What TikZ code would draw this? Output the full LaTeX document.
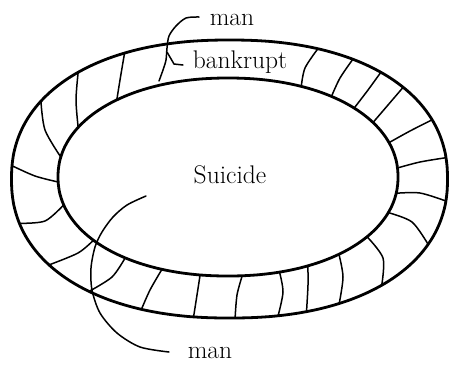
\documentclass[tikz,border=0pt]{standalone}
\begin{document}
\begin{tikzpicture}[x=1pt,y=-1pt,
  declare function={
    spow(\v,\p)=sign(\v)*abs(\v)^(\p);
    ot(\x,\y)=atan2(spow((\y-179)/139,1/0.9),spow((\x-229.5)/218,1/0.9));
    ox(\x,\y)=229.5+218*spow(cos(ot(\x,\y)),0.9);
    oy(\x,\y)=179+139*spow(sin(ot(\x,\y)),0.9);
    it(\x,\y)=atan2(spow((\y-177)/99,1/0.95),spow((\x-228)/170,1/0.95));
    ix(\x,\y)=228+170*spow(cos(it(\x,\y)),0.95);
    iy(\x,\y)=177+99*spow(sin(it(\x,\y)),0.95);
  },
  ring/.style={line width=2.8pt, line join=round},
  divider/.style={line width=1.5pt, line cap=round},
  pointer/.style={line width=1.5pt, line cap=round},
  lbl/.style={font=\fontsize{25.5}{30}\selectfont, inner sep=0pt}]
\useasboundingbox (0,0) rectangle (449,365);
% outer ring
\draw[ring] plot[domain=1.25:358.75, samples=144, smooth cycle, variable=\t]
 ({229.5 + 218*spow(cos(\t),0.9)}, {179 + 139*spow(sin(\t),0.9)});
% inner ring
\draw[ring] plot[domain=1.25:358.75, samples=144, smooth cycle, variable=\t]
 ({228 + 170*spow(cos(\t),0.95)}, {177 + 99*spow(sin(\t),0.95)});
% dividers: outer point, middle point, inner point
\foreach \ua/\ub/\va/\vb/\wa/\wb in {
 127/56/120/80/117/100,
 82/75/76/100/77/127,
 43/102/45/130/60/157,
 14/166/35/176/58/182,
 21/223/45/221/63/205,
 53/263/78/253/94/240,
 92/289/112/277/125/258,
 143/307/150/290/160/272,
 195/315/197/295/200/277,
 235/317/237/295/242/276,
 277/313/283/292/280/273,
 305/309/308/285/308/266,
 337/301/343/277/340/255,
 380/284/383/258/370/238,
 424/243/412/222/390/213,
 443/200/420/193/397/193,
 445/158/420/162/398/168,
 428/121/410/131/392/142,
 398/90/388/105/377/121,
 377/75/368/90/358/106,
 350/62/340/78/332/96,
 315/53/305/68/300/88}
 \draw[divider] plot[smooth] coordinates
   {({ox(\ua,\ub)},{oy(\ua,\ub)}) (\va,\vb) ({ix(\wa,\wb)},{iy(\wa,\wb)})};
% labels
\node[lbl, anchor=base] (mantop) at (232,25) {man};
\node[lbl, anchor=base] (bankrupt) at (240,68) {bankrupt};
\node[lbl, anchor=base] (suicide) at (230,183) {Suicide};
\node[lbl, anchor=base] (manbot) at (210,358) {man};
% pointer lines
\draw[pointer] plot[smooth] coordinates {(199,17) (186,18) (176,26) (169,36) (167,48) (166,60) (163,70) (159,81)};
\draw[pointer] (183,65) -- (174,64) -- (167,52);
\draw[pointer] plot[smooth] coordinates {(169,352) (140,347) (117,333) (100,313) (92,290) (91,268) (95,247) (102,232) (113,217) (127,205) (146,196)};
\end{tikzpicture}
\end{document}
